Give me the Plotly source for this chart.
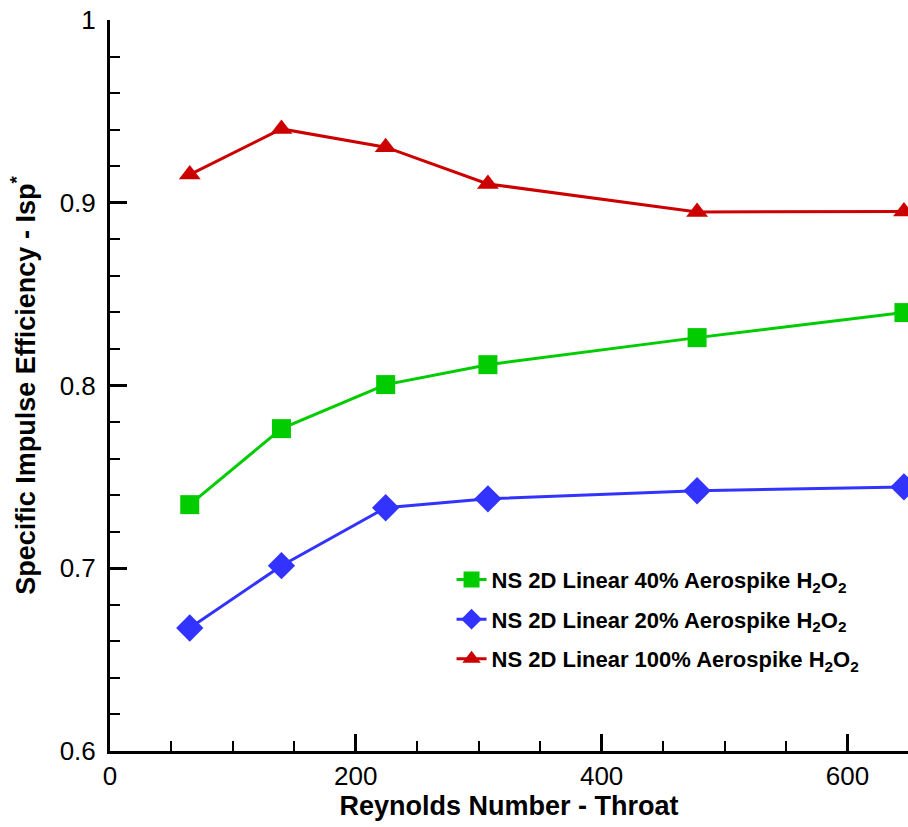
import plotly.graph_objects as go

reynolds = [64.9, 139.5, 224.3, 307.5, 477.7, 646.0]
isp_40 = [0.7348, 0.7764, 0.8005, 0.8114, 0.8262, 0.8399]
isp_20 = [0.6673, 0.7014, 0.7331, 0.7380, 0.7424, 0.7445]
isp_100 = [0.9154, 0.9404, 0.9304, 0.9103, 0.8950, 0.8952]

names = [
    "NS 2D Linear 40% Aerospike H<sub>2</sub>O<sub>2</sub>",
    "NS 2D Linear 20% Aerospike H<sub>2</sub>O<sub>2</sub>",
    "NS 2D Linear 100% Aerospike H<sub>2</sub>O<sub>2</sub>",
]

FONT = "Arial, Liberation Sans, sans-serif"

fig = go.Figure()
series = [
    (isp_40, names[0], "#00CC00", "square", 19),
    (isp_20, names[1], "#3333FF", "diamond", 21),
    (isp_100, names[2], "#CC0000", "triangle-up", 19),
]
for i, (ys, nm, col, sym, sz) in enumerate(series):
    fig.add_trace(go.Scatter(
        x=reynolds, y=ys, name=nm, mode="lines+markers",
        line=dict(color=col, width=3),
        marker=dict(symbol=sym, size=sz, color=col, line=dict(width=0)),
        cliponaxis=False, legendgroup=f"g{i}",
    ))

fig.update_layout(
    width=908, height=827,
    margin=dict(l=110, r=0, t=20, b=76),
    paper_bgcolor="white", plot_bgcolor="white",
    font=dict(family=FONT, color="black"),
    legend=dict(
        x=0.428, y=0.263, xanchor="left", yanchor="top",
        font=dict(family=FONT, size=22, color="black", weight="bold"),
        bgcolor="rgba(0,0,0,0)", tracegroupgap=8, traceorder="grouped",
    ),
    showlegend=True,
)

fig.update_xaxes(
    range=[0, 649.3], showline=True, linewidth=3, linecolor="black",
    showgrid=False, zeroline=False,
    ticks="inside", ticklen=17, tickwidth=3, tickcolor="black",
    dtick=200, tick0=0,
    minor=dict(ticks="inside", ticklen=10, tickwidth=2, tickcolor="black", dtick=50, showgrid=False),
    tickfont=dict(family=FONT, size=26, color="black"),
    title=dict(text="<b>Reynolds Number - Throat</b>", font=dict(family=FONT, size=27, color="black"), standoff=3),
    automargin=False,
)
fig.update_yaxes(
    range=[0.6, 1.0], showline=True, linewidth=3, linecolor="black",
    showgrid=False, zeroline=False,
    ticks="inside", ticklen=17, tickwidth=3, tickcolor="black",
    dtick=0.1, tick0=0.6,
    minor=dict(ticks="inside", ticklen=10, tickwidth=2, tickcolor="black", dtick=0.02, showgrid=False),
    tickfont=dict(family=FONT, size=26, color="black"),
    ticklabelstandoff=6,
    title=dict(text="<b>Specific Impulse Efficiency - Isp<sup>*</sup></b>", font=dict(family=FONT, size=27, color="black"), standoff=17),
    automargin=False,
)

fig.write_html("out.html")
